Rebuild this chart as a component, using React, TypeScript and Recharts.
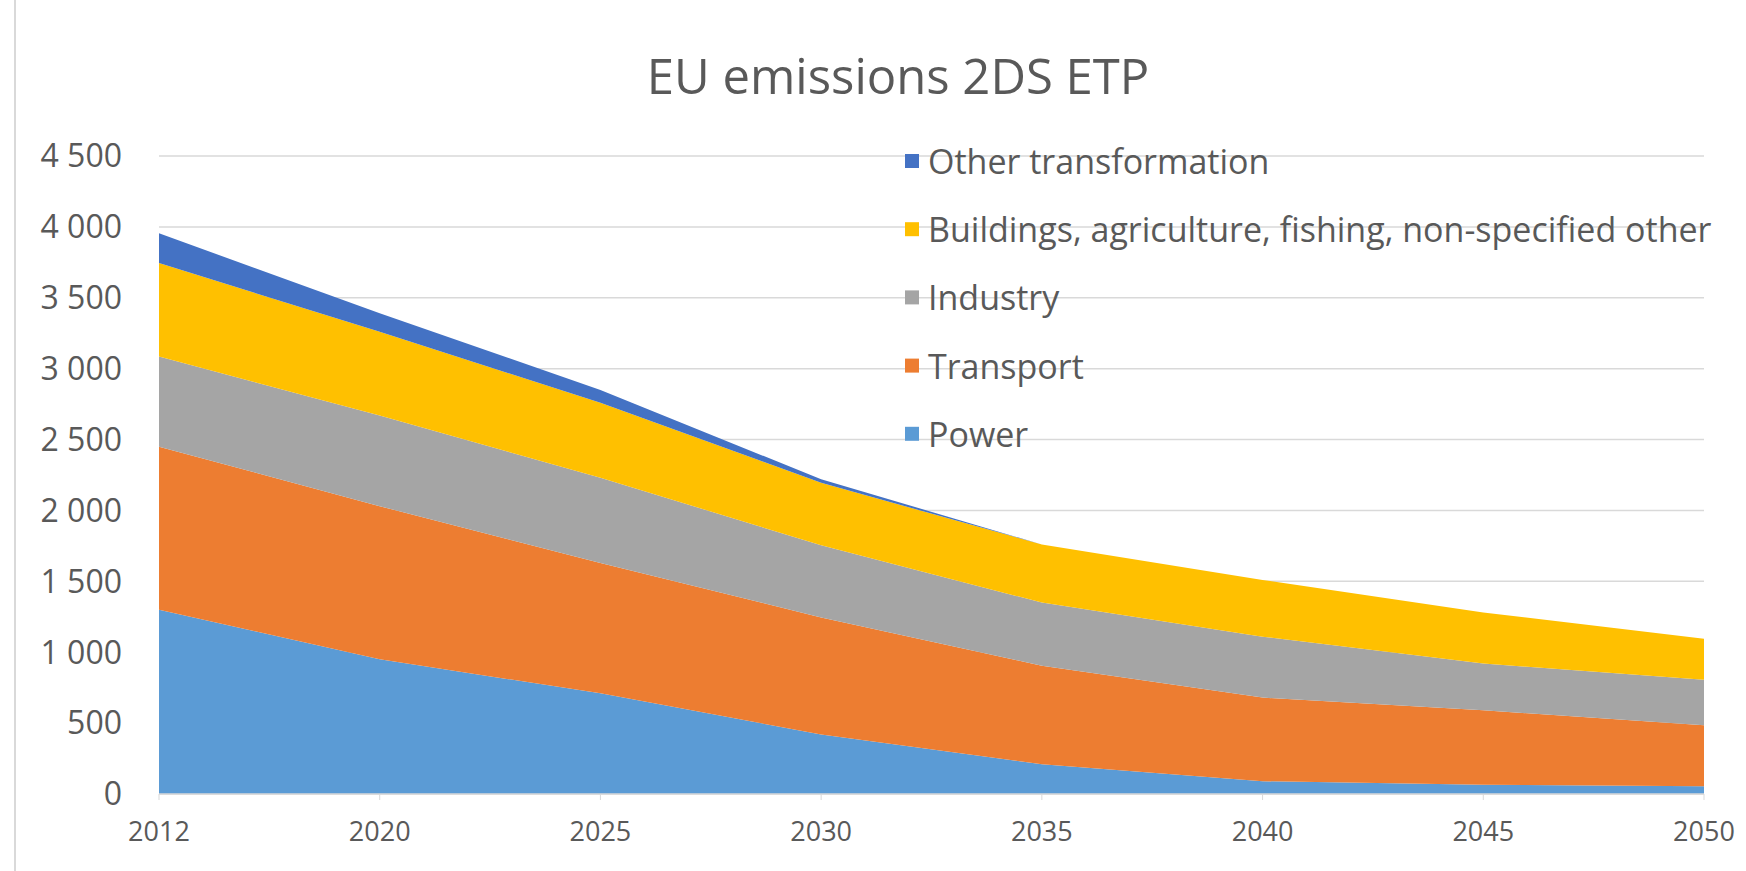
import React from 'react';
import { AreaChart, Area, XAxis, YAxis, CartesianGrid, Legend } from 'recharts';

const years = ['2012', '2020', '2025', '2030', '2035', '2040', '2045', '2050'];
const power = [1300, 950, 710, 420, 210, 90, 65, 55];
const transport = [1150, 1080, 920, 825, 695, 590, 525, 430];
const industry = [635, 640, 600, 510, 445, 430, 330, 320];
const buildings = [660, 590, 530, 440, 410, 400, 360, 290];
const otherTransformation = [210, 130, 90, 25, 0, 0, 0, 0];
const yTicks = [0, 500, 1000, 1500, 2000, 2500, 3000, 3500, 4000, 4500];

const seriesNames = {
  power: 'Power',
  transport: 'Transport',
  industry: 'Industry',
  buildings: 'Buildings, agriculture, fishing, non-specified other',
  other: 'Other transformation',
};

const colors = {
  power: '#5b9bd5',
  transport: '#ed7d31',
  industry: '#a5a5a5',
  buildings: '#ffc000',
  other: '#4472c4',
};

const data = years.map((y, i) => ({
  year: y,
  power: power[i],
  transport: transport[i],
  industry: industry[i],
  buildings: buildings[i],
  other: otherTransformation[i],
}));

const legendOrder = ['other', 'buildings', 'industry', 'transport', 'power'] as const;

const FONT = '"Open Sans", "Noto Sans", sans-serif';

const fmt = (v: number) => {
  const s = String(v);
  if (s.length > 3) return s.slice(0, s.length - 3) + ' ' + s.slice(s.length - 3);
  return s;
};

const LegendContent = () => (
  <svg width={840} height={320} style={{ display: 'block' }}>
    {legendOrder.map((k, i) => {
      const cy = 22 + i * 68.2;
      return (
        <g key={k}>
          <rect x={5} y={cy - 7} width={14} height={14} fill={colors[k]} />
          <text x={28} y={cy} dominantBaseline="central" fontFamily={FONT} fontSize={34} fill="#595959">
            {seriesNames[k]}
          </text>
        </g>
      );
    })}
  </svg>
);

export default function App() {
  return (
    <div style={{ position: 'absolute', left: 0, top: 0, width: 1746, height: 871, background: '#fff' }}>
      <svg width={1746} height={871} style={{ position: 'absolute', left: 0, top: 0 }}>
        <line x1={15} y1={0} x2={15} y2={871} stroke="#d9d9d9" strokeWidth={2} />
        <text x={898} y={75} textAnchor="middle" dominantBaseline="central" fontFamily={FONT} fontSize={49} fill="#595959">
          EU emissions 2DS ETP
        </text>
      </svg>
      <div style={{ position: 'absolute', left: 0, top: 0 }}>
        <AreaChart width={1746} height={871} data={data} margin={{ top: 156, right: 42, bottom: 47, left: 0 }}>
          <CartesianGrid vertical={false} stroke="#d9d9d9" strokeWidth={1.5} />
          <XAxis
            dataKey="year"
            height={30}
            axisLine={{ stroke: '#d9d9d9', strokeWidth: 1.5 }}
            tickLine={{ stroke: '#d9d9d9' }}
            tickSize={6}
            tickMargin={22}
            tick={{ fontFamily: FONT, fontSize: 27, fill: '#595959' }}
            interval={0}
          />
          <YAxis
            width={159}
            domain={[0, 4500]}
            ticks={yTicks}
            axisLine={false}
            tickLine={false}
            tickSize={0}
            tickMargin={37}
            tickFormatter={fmt}
            tick={{ fontFamily: FONT, fontSize: 32, fill: '#595959' }}
            interval={0}
          />
          <Legend
            layout="vertical"
            align="center"
            verticalAlign="middle"
            content={<LegendContent />}
            wrapperStyle={{ position: 'absolute', left: 900, top: 139, width: 840, height: 320 }}
          />
          <Area type="linear" dataKey="power" name={seriesNames.power} stackId="1" stroke="none" fill={colors.power} fillOpacity={1} isAnimationActive={false} />
          <Area type="linear" dataKey="transport" name={seriesNames.transport} stackId="1" stroke="none" fill={colors.transport} fillOpacity={1} isAnimationActive={false} />
          <Area type="linear" dataKey="industry" name={seriesNames.industry} stackId="1" stroke="none" fill={colors.industry} fillOpacity={1} isAnimationActive={false} />
          <Area type="linear" dataKey="buildings" name={seriesNames.buildings} stackId="1" stroke="none" fill={colors.buildings} fillOpacity={1} isAnimationActive={false} />
          <Area type="linear" dataKey="other" name={seriesNames.other} stackId="1" stroke="none" fill={colors.other} fillOpacity={1} isAnimationActive={false} />
        </AreaChart>
      </div>
    </div>
  );
}
